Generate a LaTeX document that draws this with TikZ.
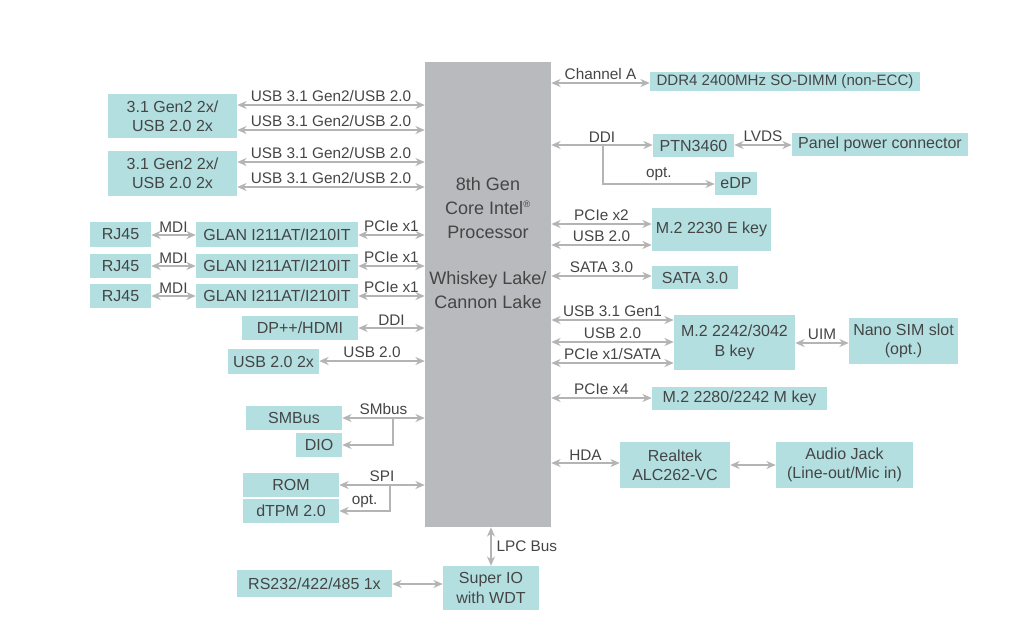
\documentclass[tikz,border=0pt]{standalone}
\usepackage{fontspec}
\setmainfont{Liberation Sans}
\usetikzlibrary{arrows.meta}
\definecolor{boxc}{HTML}{B3DFE1}
\definecolor{cpuc}{HTML}{B9BABE}
\definecolor{arrc}{HTML}{B4B4B4}
\definecolor{txtc}{HTML}{454545}
\tikzset{
  bx/.style={fill=boxc,inner sep=0pt,align=center,text=txtc,font=\fontsize{12}{14.5}\selectfont},
  arr/.style={draw=arrc,line width=1.4pt,{Stealth[length=7pt,width=6pt]}-{Stealth[length=7pt,width=6pt]}},
  arro/.style={draw=arrc,line width=1.4pt,-{Stealth[length=7pt,width=6pt]}},
  lbl/.style={text=txtc,font=\fontsize{11.5}{13}\selectfont,inner sep=1.5pt}
}
\newcommand\bx[6]{\pgfmathsetmacro\bw{(#4-#2)*0.75}\pgfmathsetmacro\bh{(#5-#3)*0.75}%
\node[bx,minimum width=\bw pt,minimum height=\bh pt] (#1) at ({(#2+#4)/2},{(#3+#5)/2}) {#6};}
\begin{document}
\begin{tikzpicture}[x=0.75pt,y=-0.75pt]
\useasboundingbox (0,0) rectangle (1010,619);
% CPU
\pgfmathsetmacro\cw{126*0.75}\pgfmathsetmacro\ch{465*0.75}
\node[fill=cpuc,minimum width=\cw pt,minimum height=\ch pt,inner sep=0pt] (cpu) at (488,294.5) {};
\node[lbl,align=center,font=\fontsize{13.5}{18}\selectfont] (cput) at (488,208) {8th Gen\\Core Intel\textsuperscript{\scriptsize\textregistered}\\Processor};
\node[lbl,align=center,font=\fontsize{13.5}{18}\selectfont] (cpub) at (488,290) {Whiskey Lake/\\Cannon Lake};
% left boxes
\bx{u1}{108}{94}{237}{138}{3.1 Gen2 2x/\\USB 2.0 2x}
\bx{u2}{108}{151}{237}{196}{3.1 Gen2 2x/\\USB 2.0 2x}
\bx{r1}{90}{222}{151}{247}{RJ45}
\bx{r2}{90}{254}{151}{278}{RJ45}
\bx{r3}{90}{284}{151}{308}{RJ45}
\bx{g1}{196}{222}{358}{247}{GLAN I211AT/I210IT}
\bx{g2}{196}{254}{358}{278}{GLAN I211AT/I210IT}
\bx{g3}{196}{284}{358}{308}{GLAN I211AT/I210IT}
\bx{dp}{242}{316}{358}{340}{DP++/HDMI}
\bx{u20}{228}{349}{319}{374}{USB 2.0 2x}
\bx{smb}{246}{406}{342}{430}{SMBus}
\bx{dio}{296}{433}{342}{457}{DIO}
\bx{rom}{243}{473}{339}{497}{ROM}
\bx{tpm}{243}{499}{339}{523}{dTPM 2.0}
\bx{sio}{443}{566}{539}{610}{Super IO\\with WDT}
\bx{rs}{237}{570}{392}{597}{RS232/422/485 1x}
% right boxes
\bx{ddr}{650}{72}{920}{91}{\fontsize{11.3}{13}\selectfont DDR4 2400MHz SO-DIMM (non-ECC)}
\bx{ptn}{653}{134}{734}{157}{PTN3460}
\bx{pan}{792}{133}{968}{156}{Panel power connector}
\bx{edp}{715}{172}{757}{195}{eDP}
\bx{m2e}{652}{208}{771}{251}{M.2 2230 E key}
\bx{sata}{652}{266}{738}{289}{SATA 3.0}
\bx{m2b}{674}{315}{795}{370}{M.2 2242/3042\\B key}
\bx{sim}{849}{318}{958}{364}{Nano SIM slot\\(opt.)}
\bx{m2m}{652}{387}{827}{410}{M.2 2280/2242 M key}
\bx{rtk}{620}{442}{730}{488}{Realtek\\ALC262-VC}
\bx{aud}{776}{442}{913}{488}{Audio Jack\\(Line-out/Mic in)}
% left connectors
\foreach \n/\y in {u1/105,u1/130,u2/162,u2/187}
  \draw[arr] (\n.east |- 0,\y) -- node[lbl,above]{USB 3.1 Gen2/USB 2.0} (cpu.west |- 0,\y);
\foreach \r/\g/\y in {r1/g1/235,r2/g2/266,r3/g3/296}{
  \draw[arr] (\r.east |- 0,\y) -- node[lbl,above]{MDI} (\g.west |- 0,\y);
  \draw[arr] (\g.east |- 0,\y) -- node[lbl,above]{PCIe x1} (cpu.west |- 0,\y);}
\draw[arr] (dp.east |- 0,328) -- node[lbl,above]{DDI} (cpu.west |- 0,328);
\draw[arr] (u20.east |- 0,361) -- node[lbl,above]{USB 2.0} (cpu.west |- 0,361);
\draw[arr] (smb.east |- 0,418) -- node[lbl,above]{SMbus} (cpu.west |- 0,418);
\coordinate (sb) at (393,418);
\draw[arro] (sb) |- (dio.east |- 0,445);
\draw[arr] (rom.east |- 0,485) -- node[lbl,above]{SPI} (cpu.west |- 0,485);
\coordinate (sp) at (390,485);
\draw[arro] (sp) |- node[lbl,above,pos=0.75]{opt.} (tpm.east |- 0,511);
\draw[arr] (cpu.south -| 491,0) -- node[lbl,right,xshift=2pt]{LPC Bus} (sio.north -| 491,0);
\draw[arr] (rs.east |- 0,584) -- (sio.west |- 0,584);
% right connectors
\draw[arr] (cpu.east |- 0,83) -- node[lbl,above]{Channel A} (ddr.west |- 0,83);
\draw[arr] (cpu.east |- 0,145) -- node[lbl,above]{DDI} (ptn.west |- 0,145);
\draw[arr] (ptn.east |- 0,145) -- node[lbl,above]{LVDS} (pan.west |- 0,145);
\coordinate (db) at (603,145);
\draw[arro] (db) |- node[lbl,above,pos=0.75]{opt.} (edp.west |- 0,184);
\draw[arr] (cpu.east |- 0,224) -- node[lbl,above]{PCIe x2} (m2e.west |- 0,224);
\draw[arr] (cpu.east |- 0,245) -- node[lbl,above]{USB 2.0} (m2e.west |- 0,245);
\draw[arr] (cpu.east |- 0,276) -- node[lbl,above]{SATA 3.0} (sata.west |- 0,276);
\draw[arr] (cpu.east |- 0,320) -- node[lbl,above]{USB 3.1 Gen1} (m2b.west |- 0,320);
\draw[arr] (cpu.east |- 0,342) -- node[lbl,above]{USB 2.0} (m2b.west |- 0,342);
\draw[arr] (cpu.east |- 0,363) -- node[lbl,above]{PCIe x1/SATA} (m2b.west |- 0,363);
\draw[arr] (m2b.east |- 0,343) -- node[lbl,above]{UIM} (sim.west |- 0,343);
\draw[arr] (cpu.east |- 0,398) -- node[lbl,above]{PCIe x4} (m2m.west |- 0,398);
\draw[arr] (cpu.east |- 0,463) -- node[lbl,above]{HDA} (rtk.west |- 0,463);
\draw[arr] (rtk.east |- 0,465) -- (aud.west |- 0,465);
\end{tikzpicture}
\end{document}
